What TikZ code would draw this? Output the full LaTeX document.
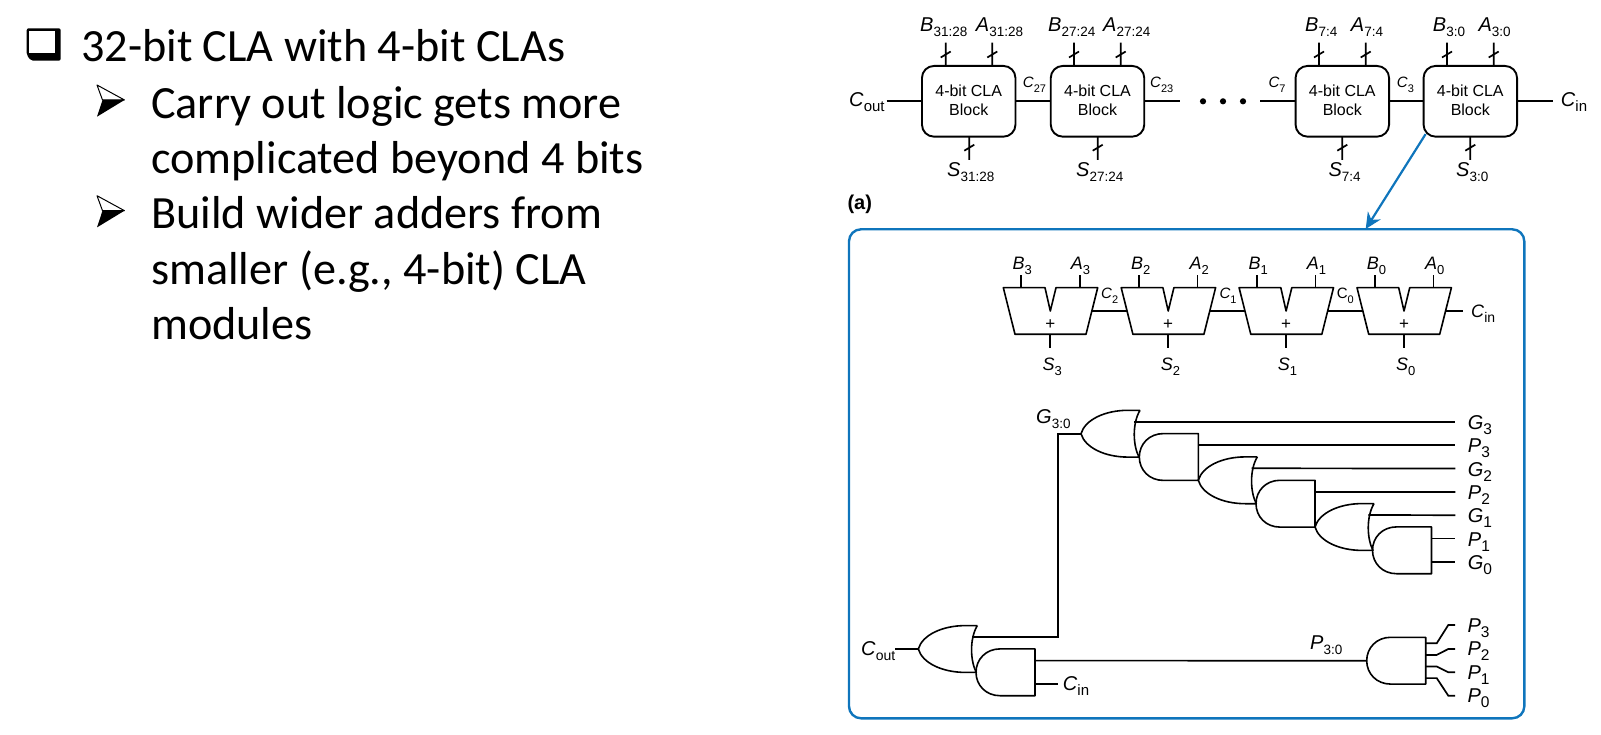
\documentclass[tikz,border=0pt]{standalone}
\usepackage{fontspec}
\setmainfont{Liberation Sans}
\newfontfamily\slidefont{Carlito}
\usetikzlibrary{arrows.meta}
\definecolor{claBlue}{HTML}{0F75BC}
\newcommand{\sig}[3][13.5]{\textit{#2}\raisebox{-5pt}{\fontsize{#1}{#1}\selectfont #3}}
\newcommand{\clatxt}{\raisebox{2pt}{4-bit CLA}\\\raisebox{2pt}{Block}}
\tikzset{
  wire/.style={line width=1.7pt,line cap=butt},
  gateline/.style={line width=1.6pt,line join=round},
  slidetxt/.style={anchor=base west,inner sep=0pt,font=\fontsize{46.2}{46.2}\selectfont\slidefont},
  lblbig/.style={anchor=base west,inner sep=0pt,font=\fontsize{20}{20}\selectfont},
  lblright/.style={anchor=base west,inner sep=0pt,font=\fontsize{20}{20}\selectfont},
  lblmid/.style={anchor=base west,inner sep=0pt,font=\fontsize{18}{18}\selectfont},
  lblsmall/.style={anchor=base west,inner sep=0pt,font=\fontsize{15}{15}\selectfont},
  clablock/.style={draw,line width=1.9pt,rounded corners=12pt,minimum width=93.5pt,minimum height=70.7pt,inner sep=0pt,align=center,font=\fontsize{16}{19}\selectfont},
  orgate/.pic={
    \draw[gateline] (59,-23.4)--(47,-23.4) .. controls (24,-23.4) and (4,-14) .. (0,0)
      .. controls (4,14) and (24,23.4) .. (47,23.4)--(58,23.4)
      .. controls (52,12) and (51,-10) .. (59,-23.4);
    \coordinate (-tip) at (0,0);
    \coordinate (-back) at (53.3,-12);
  },
  andgate/.pic={
    \draw[gateline] (59,-23.4)--(24,-23.4) .. controls (10,-23.4) and (0,-13) .. (0,0)
      .. controls (0,13) and (10,23.4) .. (24,23.4)--(59,23.4)--cycle;
    \coordinate (-tip) at (0,0);
    \coordinate (-ra) at (59,-11.7);
    \coordinate (-rb) at (59,11.7);
    \coordinate (-pa) at (59,-17.4);
    \coordinate (-pb) at (59,-5.8);
    \coordinate (-pc) at (59,5.8);
    \coordinate (-pd) at (59,17.4);
  },
  adder/.pic={
    \draw[gateline] (-47,-23.3)--(-5.3,-23.3)--(0,0)--(5.7,-23.3)--(47.4,-23.3)--(35.7,23.3)--(-35.3,23.3)--cycle;
    \node[inner sep=0pt,font=\fontsize{17}{17}\selectfont] (-plus) at (0,13.3) {+};
    \coordinate (-l) at (-41.2,0);
    \coordinate (-r) at (41.6,0);
    \coordinate (-b) at (-29.3,-23.3);
    \coordinate (-a) at (29.4,-23.3);
    \coordinate (-s) at (0,23.3);
  },
  arrowhd/.pic={
    \draw[line width=1pt,line join=round] (0,0)--(27.5,15)--(5.5,15)--cycle;
    \fill (0,31.7)--(27.5,15)--(5.5,15)--cycle;
  },
}
\newcommand{\busin}[1]{\draw[wire] (#1)--++(0,-23.3) (#1)++(-5,-8.5)--++(10,-6);}
\newcommand{\busout}[1]{\draw[wire] (#1)--++(0,23.3) (#1)++(-5,14)--++(10,-6);}
\begin{document}
\begin{tikzpicture}[x=1pt,y=-1pt]
\useasboundingbox (0,0) rectangle (1601,735);
%
\fill[rounded corners=2pt] (26.7,28.3)--(60.7,28.3)--(60.7,60.7)--(31,60.7)--(26.7,55)--cycle;
\fill[white] (29.3,31) rectangle (55,53.3);
\node[slidetxt] (txtA) at (81,62) {32-bit CLA with 4-bit CLAs};
\pic at (97,85) {arrowhd};
\node[slidetxt] (txtB) at (151,118.5) {Carry out logic gets more};
\node[slidetxt] (txtC) at (151,173.5) {complicated beyond 4 bits};
\pic at (97,195.7) {arrowhd};
\node[slidetxt] (txtD) at (151,229) {Build wider adders from};
\node[slidetxt] (txtE) at (151,284.5) {smaller (e.g., 4-bit) CLA};
\node[slidetxt] (txtF) at (151,339.5) {modules};
%
\node[clablock] (blkA) at (968.7,101.3) {\clatxt};
\node[clablock] (blkB) at (1097.5,101.3) {\clatxt};
\node[clablock] (blkC) at (1342.3,101.3) {\clatxt};
\node[clablock] (blkD) at (1470.3,101.3) {\clatxt};
%
\coordinate (cOutEnd) at (886.7,101.3);
\coordinate (cTwThEnd) at (1180,101.3);
\coordinate (cSevEnd) at (1260,101.3);
\coordinate (cInEnd) at (1552.7,101.3);
\draw[wire] (cOutEnd)--(blkA);
\draw[wire] (blkA)--(blkB);
\draw[wire] (blkB)--(cTwThEnd);
\draw[wire] (cSevEnd)--(blkC);
\draw[wire] (blkC)--(blkD);
\draw[wire] (blkD)--(cInEnd);
\fill (1203,101.3) circle (3.1) (1223,101.3) circle (3.1) (1243,101.3) circle (3.1);
%
\coordinate (blkAb) at (945.7,66); \coordinate (blkAa) at (992.3,66); \coordinate (blkAs) at (969.3,136.7);
\coordinate (blkBb) at (1074,66); \coordinate (blkBa) at (1120.7,66); \coordinate (blkBs) at (1097.7,136.7);
\coordinate (blkCb) at (1319,66); \coordinate (blkCa) at (1365.7,66); \coordinate (blkCs) at (1342.3,136.7);
\coordinate (blkDb) at (1447,66); \coordinate (blkDa) at (1493.7,66); \coordinate (blkDs) at (1470.3,136.7);
\busin{blkAb} \busin{blkAa} \busout{blkAs}
\busin{blkBb} \busin{blkBa} \busout{blkBs}
\busin{blkCb} \busin{blkCa} \busout{blkCs}
\busin{blkDb} \busin{blkDa} \busout{blkDs}
%
\node[lblbig] (lbBa) at (920,32) {\sig{B}{31:28}};
\node[lblbig] (lbAa) at (975.7,32) {\sig{A}{31:28}};
\node[lblbig] (lbBb) at (1048,32) {\sig{B}{27:24}};
\node[lblbig] (lbAb) at (1103,32) {\sig{A}{27:24}};
\node[lblbig] (lbBc) at (1305,32) {\sig{B}{7:4}};
\node[lblbig] (lbAc) at (1350.7,32) {\sig{A}{7:4}};
\node[lblbig] (lbBd) at (1432.7,32) {\sig{B}{3:0}};
\node[lblbig] (lbAd) at (1478.3,32) {\sig{A}{3:0}};
\node[lblbig] (lbSa) at (947,177) {\sig{S}{31:28}};
\node[lblbig] (lbSb) at (1076,177) {\sig{S}{27:24}};
\node[lblbig] (lbSc) at (1328.3,177) {\sig{S}{7:4}};
\node[lblbig] (lbSd) at (1456,177) {\sig{S}{3:0}};
\node[lblbig] (lbCout) at (849,107) {\sig[15]{C}{out}};
\node[lblbig] (lbCin) at (1560.7,107) {\sig[15]{C}{in}};
\node[lblsmall] (lbCa) at (1022.7,88) {\sig[11]{C}{27}};
\node[lblsmall] (lbCb) at (1150,88) {\sig[11]{C}{23}};
\node[lblsmall] (lbCc) at (1268.3,88) {\sig[11]{C}{7}};
\node[lblsmall] (lbCd) at (1396.7,88) {\sig[11]{C}{3}};
\node[anchor=base west,inner sep=0pt,font=\fontsize{20}{20}\selectfont\bfseries] (lbFig) at (847.3,209.5) {(a)};
%
\draw[claBlue,line width=2.4pt,rounded corners=12pt] (849,229.3) rectangle (1524.3,718.3);
\coordinate (zoomTop) at (1365.7,229);
\draw[claBlue,line width=2.2pt,-{Stealth[length=16pt,width=15pt]}] (blkD.south west)++(3,-3.5)--(zoomTop);
%
\pic (addD) at (1050.3,311) {adder};
\pic (addC) at (1168.2,311) {adder};
\pic (addB) at (1286.1,311) {adder};
\pic (addA) at (1404,311) {adder};
\coordinate (addEnd) at (1463.3,311);
\draw[wire] (addD-r)--(addC-l);
\draw[wire] (addC-r)--(addB-l);
\draw[wire] (addB-r)--(addA-l);
\draw[wire] (addA-r)--(addEnd);
\draw[wire] (addD-b)--++(0,-12.7); \draw[wire] (addD-a)--++(0,-12.7); \draw[wire] (addD-s)--++(0,13.4);
\draw[wire] (addC-b)--++(0,-12.7); \draw[wire] (addC-a)--++(0,-12.7); \draw[wire] (addC-s)--++(0,13.4);
\draw[wire] (addB-b)--++(0,-12.7); \draw[wire] (addB-a)--++(0,-12.7); \draw[wire] (addB-s)--++(0,13.4);
\draw[wire] (addA-b)--++(0,-12.7); \draw[wire] (addA-a)--++(0,-12.7); \draw[wire] (addA-s)--++(0,13.4);
%
\node[lblmid] (lbBthree) at (1012.3,270) {\sig[13]{B}{3}};
\node[lblmid] (lbAthree) at (1070.7,270) {\sig[13]{A}{3}};
\node[lblmid] (lbBtwo) at (1131,270) {\sig[13]{B}{2}};
\node[lblmid] (lbAtwo) at (1189.3,270) {\sig[13]{A}{2}};
\node[lblmid] (lbBone) at (1248.3,270) {\sig[13]{B}{1}};
\node[lblmid] (lbAone) at (1306.7,270) {\sig[13]{A}{1}};
\node[lblmid] (lbBzero) at (1366.7,270) {\sig[13]{B}{0}};
\node[lblmid] (lbAzero) at (1425,270) {\sig[13]{A}{0}};
\node[lblmid] (lbSthree) at (1042.3,370.7) {\sig[13]{S}{3}};
\node[lblmid] (lbStwo) at (1160.7,370.7) {\sig[13]{S}{2}};
\node[lblmid] (lbSone) at (1277.7,370.7) {\sig[13]{S}{1}};
\node[lblmid] (lbSzero) at (1396,370.7) {\sig[13]{S}{0}};
\node[lblsmall] (lbCtwo) at (1101,299) {\sig[11]{C}{2}};
\node[lblsmall] (lbCone) at (1219.3,299) {\sig[11]{C}{1}};
\node[lblsmall] (lbCzero) at (1336.7,299) {C\raisebox{-5pt}{\fontsize{11}{11}\selectfont 0}};
\node[lblmid] (lbCinB) at (1471,317.3) {\sig[14]{C}{in}};
%
\pic (orA) at (1081,433.7) {orgate};
\pic (andA) at (1139.3,457) {andgate};
\pic (orB) at (1198.3,480.3) {orgate};
\pic (andB) at (1256,503.7) {andgate};
\pic (orC) at (1315,527) {orgate};
\pic (andC) at (1372.5,550.3) {andgate};
\pic (orD) at (918.3,649) {orgate};
\pic (andD) at (976,672.3) {andgate};
\pic (andE) at (1366.7,660.7) {andgate};
%
\coordinate (wGthree) at (1455.3,421.7);
\coordinate (wPthree) at (1455.3,445.3);
\coordinate (wGtwo) at (1455.3,468.5);
\coordinate (wPtwo) at (1455.3,491.9);
\coordinate (wGone) at (1455.3,515.2);
\coordinate (wPone) at (1455.3,538.6);
\coordinate (wGzero) at (1455.3,562);
\coordinate (wCoutB) at (895,649);
\coordinate (wCinB) at (1058,684);
\draw[wire] (orA-back)--(wGthree);
\draw[wire] (andA-ra)--(wPthree);
\draw[wire] (orB-back)--(wGtwo);
\draw[wire] (andB-ra)--(wPtwo);
\draw[wire] (orC-back)--(wGone);
\draw[wire] (andC-ra)--(wPone);
\draw[wire] (andC-rb)--(wGzero);
\draw[wire] (orA-tip)--(1058,433.7)|-(orD-back);
\draw[wire] (wCoutB)--(orD-tip);
\draw[wire] (andD-rb)--(wCinB);
\draw[wire] (andD-ra)--(andE-tip);
%
\coordinate (wPa) at (1455,625);
\coordinate (wPb) at (1455,649);
\coordinate (wPc) at (1455,672.3);
\coordinate (wPd) at (1455,695.7);
\draw[wire] (andE-pa)--++(11,0)--(1448.3,625)--(wPa);
\draw[wire] (andE-pb)--++(11,0)--(1448.3,649)--(wPb);
\draw[wire] (andE-pc)--++(11,0)--(1448.3,672.3)--(wPc);
\draw[wire] (andE-pd)--++(11,0)--(1448.3,695.7)--(wPd);
%
\node[lblright] (lbGthreeB) at (1467.7,429) {\sig[15.5]{G}{3}};
\node[lblright] (lbPthreeB) at (1467.7,452) {\sig[15.5]{P}{3}};
\node[lblright] (lbGtwoB) at (1467.7,476) {\sig[15.5]{G}{2}};
\node[lblright] (lbPtwoB) at (1467.7,499) {\sig[15.5]{P}{2}};
\node[lblright] (lbGoneB) at (1467.7,522) {\sig[15.5]{G}{1}};
\node[lblright] (lbPoneB) at (1467.7,546) {\sig[15.5]{P}{1}};
\node[lblright] (lbGzeroB) at (1467.7,569) {\sig[15.5]{G}{0}};
\node[lblbig] (lbGall) at (1036,423) {\sig{G}{3:0}};
\node[lblbig] (lbPall) at (1310,649.3) {\sig{P}{3:0}};
\node[lblbig] (lbCoutB) at (861,655) {\sig[14]{C}{out}};
\node[lblbig] (lbCinC) at (1062.7,690.7) {\sig[15]{C}{in}};
\node[lblright] (lbPa) at (1467.3,632.7) {\sig[15.5]{P}{3}};
\node[lblright] (lbPb) at (1467.3,655.7) {\sig[15.5]{P}{2}};
\node[lblright] (lbPc) at (1467.3,679) {\sig[15.5]{P}{1}};
\node[lblright] (lbPd) at (1467.3,702.7) {\sig[15.5]{P}{0}};
\end{tikzpicture}
\end{document}
